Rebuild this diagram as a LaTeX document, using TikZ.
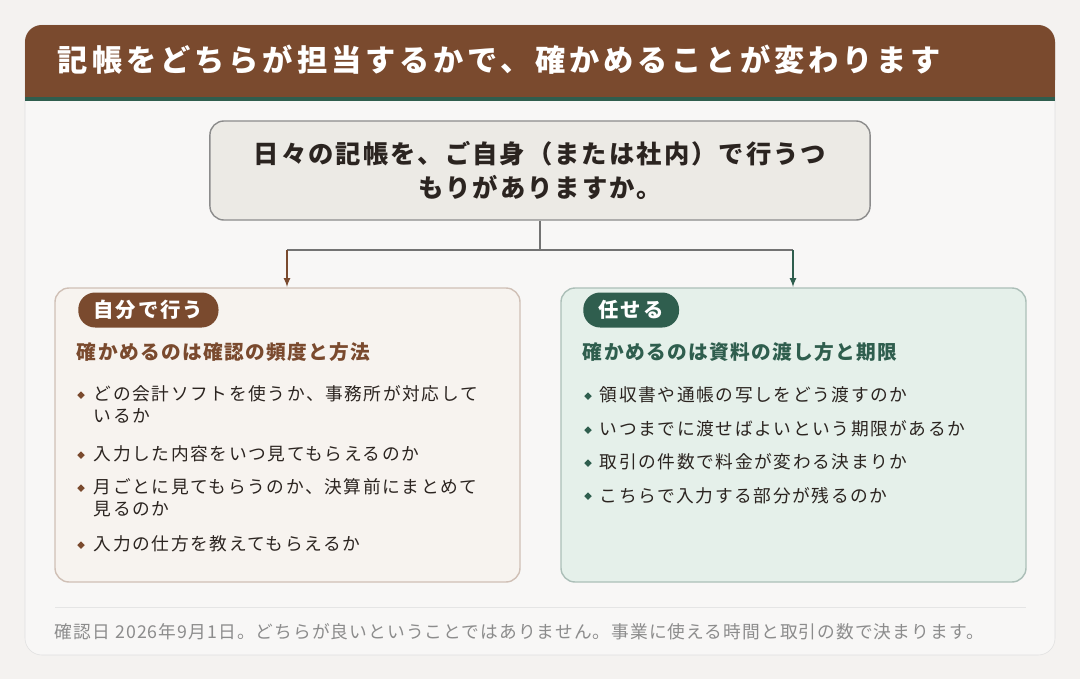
\documentclass[tikz,border=0pt]{standalone}
\usepackage{fontspec}
\setmainfont{Noto Sans CJK JP}
\usetikzlibrary{calc}
\usetikzlibrary{shapes.geometric}
\definecolor{bgc}{HTML}{F4F2F0}
\definecolor{brown}{HTML}{7A4A2E}
\definecolor{dgreen}{HTML}{2F5E4E}
\definecolor{qfill}{HTML}{ECEAE5}
\definecolor{lfill}{HTML}{F7F3EF}
\definecolor{rfill}{HTML}{E5F0EA}
\definecolor{ink}{HTML}{2B2420}
\newcommand\spaced[2]{\fontsize{#1}{#1}\selectfont\addfontfeatures{LetterSpace=#2}}
\tikzset{
    panel/.style={rounded corners=10pt, line width=1pt},
    tag/.style={rounded corners=12pt, text=white, font=\spaced{14.5}{9}\bfseries, anchor=west, minimum height=0.875cm, inner xsep=11pt},
    sub/.style={anchor=west, font=\spaced{14}{7}\bfseries},
    item/.style={align=left, text=ink, font=\fontsize{12.6}{15.6}\selectfont\addfontfeatures{LetterSpace=9}},
    dot/.style={diamond, inner sep=0pt, minimum size=5.5pt}
}
\begin{document}
\begin{tikzpicture}[x=0.025cm,y=-0.025cm]
            \fill[bgc] (0,0) rectangle (1080,679);
            \useasboundingbox (0,0) rectangle (1080,679);
            % card and header
            \draw[fill=bgc!60!white, draw=black!12, rounded corners=12pt] (25,25) rectangle (1055,655);
            \fill[brown, rounded corners=12pt] (25,25) rectangle (1055,97);
            \fill[brown] (25,70) rectangle (1055,97);
            \fill[dgreen] (25,97) rectangle (1055,101);
            \node[anchor=west, text=white, font=\spaced{21.5}{13}\bfseries] (title) at (53,60) {記帳をどちらが担当するかで、確かめることが変わります};
            % question
            \node[draw=black!45, fill=qfill, panel, minimum width=16.5cm, minimum height=2.475cm, align=center, text=ink, font=\fontsize{18}{24}\selectfont\addfontfeatures{LetterSpace=8}\bfseries] (q) at (540,170.5) {日々の記帳を、ご自身（または社内）で行うつ\\もりがありますか。};
            \coordinate (split) at (540,250);
            \coordinate (tl) at (287,250);
            \coordinate (tr) at (793,250);
            \draw[black!55, line width=1.2pt] (q.south) -- (split) (tl) -- (tr);
            \draw[brown, line width=1.2pt, -latex] (tl) -- (287,287);
            \draw[dgreen, line width=1.2pt, -latex] (tr) -- (793,287);
            % panels
            \draw[panel, fill=lfill, draw=brown!35] (55,288) rectangle (520,582);
            \draw[panel, fill=rfill, draw=dgreen!40] (561,288) rectangle (1026,582);
            \node[tag, fill=brown] (self) at (78,310) {自分で行う};
            \node[tag, fill=dgreen] (trust) at (583,310) {任せる};
            \node[sub, text=brown] (lsub) at (72,352) {確かめるのは確認の頻度と方法};
            \node[sub, text=dgreen] (rsub) at (578,352) {確かめるのは資料の渡し方と期限};
            \foreach \y/\t in {395/{どの会計ソフトを使うか、事務所が対応して\\いるか},455/{入力した内容をいつ見てもらえるのか},488/{月ごとに見てもらうのか、決算前にまとめて\\見るのか},545/{入力の仕方を教えてもらえるか}} {
                \node[dot, fill=brown] at (81,\y) {};
                \node[item, anchor=north west] at (89,\y-14) {\t};
            }
            \foreach \y/\t in {396/{領収書や通帳の写しをどう渡すのか},430/{いつまでに渡せばよいという期限があるか},463/{取引の件数で料金が変わる決まりか},496/{こちらで入力する部分が残るのか}} {
                \node[dot, fill=dgreen] at (588,\y) {};
                \node[item, anchor=north west] at (595,\y-14) {\t};
            }
            % footer
            \draw[black!10] (55,607) -- (1026,607);
            \node[anchor=west, text=black!45, font=\fontsize{12.6}{14}\selectfont\addfontfeatures{LetterSpace=6}] (foot) at (50,632) {確認日 2026年9月1日。どちらが良いということではありません。事業に使える時間と取引の数で決まります。};
\end{tikzpicture}
\end{document}
